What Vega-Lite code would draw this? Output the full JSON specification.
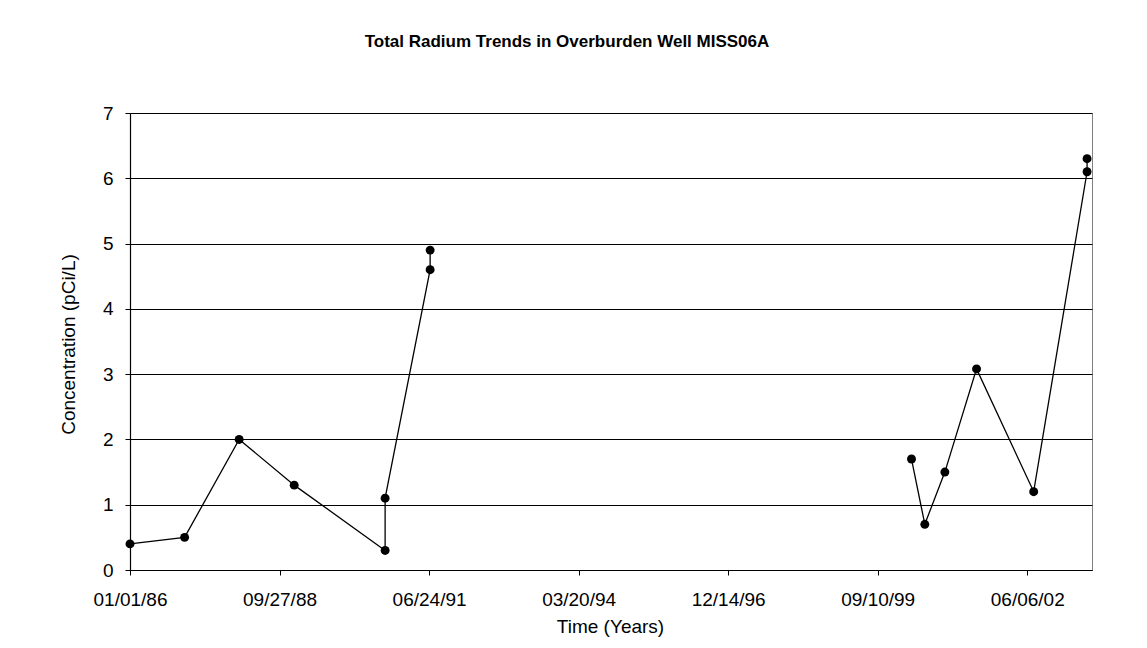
{
  "$schema": "https://vega.github.io/schema/vega-lite/v6.json",
  "autosize": "none",
  "width": 962,
  "height": 457,
  "padding": {"left": 130, "top": 113, "right": 55, "bottom": 78},
  "background": "white",
  "title": {
    "text": "Total Radium Trends in Overburden Well MISS06A",
    "font": "Liberation Sans",
    "fontSize": 17,
    "fontWeight": "bold",
    "color": "black",
    "anchor": "middle",
    "frame": "group",
    "dx": -44,
    "offset": 40,
    "baseline": "alphabetic"
  },
  "config": {
    "view": {"stroke": "#808080", "strokeWidth": 1},
    "axis": {
      "labelFont": "Liberation Sans",
      "titleFont": "Liberation Sans",
      "labelFontSize": 19,
      "titleFontSize": 19,
      "titleFontWeight": "normal",
      "labelColor": "black",
      "titleColor": "black",
      "domainColor": "black",
      "tickColor": "black",
      "gridColor": "black",
      "gridOpacity": 1,
      "gridWidth": 1,
      "tickSize": 5,
      "domainWidth": 1.2
    }
  },
  "data": {
    "values": [
      {"date": "1986-01-01", "conc": 0.4, "segment": "A", "seq": 1},
      {"date": "1987-01-01", "conc": 0.5, "segment": "A", "seq": 2},
      {"date": "1988-01-01", "conc": 2.0, "segment": "A", "seq": 3},
      {"date": "1989-01-03", "conc": 1.3, "segment": "A", "seq": 4},
      {"date": "1990-09-03", "conc": 0.3, "segment": "A", "seq": 5},
      {"date": "1990-09-03", "conc": 1.1, "segment": "A", "seq": 6},
      {"date": "1991-07-01", "conc": 4.6, "segment": "A", "seq": 7},
      {"date": "1991-07-01", "conc": 4.9, "segment": "A", "seq": 8},
      {"date": "2000-04-23", "conc": 1.7, "segment": "B", "seq": 9},
      {"date": "2000-07-21", "conc": 0.7, "segment": "B", "seq": 10},
      {"date": "2000-12-02", "conc": 1.5, "segment": "B", "seq": 11},
      {"date": "2001-07-02", "conc": 3.08, "segment": "B", "seq": 12},
      {"date": "2002-07-19", "conc": 1.2, "segment": "B", "seq": 13},
      {"date": "2003-07-11", "conc": 6.1, "segment": "B", "seq": 14},
      {"date": "2003-07-11", "conc": 6.3, "segment": "B", "seq": 15}
    ]
  },
  "encoding": {
    "x": {
      "field": "date",
      "type": "temporal",
      "title": "Time (Years)",
      "scale": {
        "type": "utc",
        "domain": [
          {"year": 1986, "month": 1, "date": 1, "utc": true},
          {"year": 2003, "month": 8, "date": 13, "utc": true}
        ],
        "nice": false
      },
      "axis": {
        "values": [
          {"year": 1986, "month": 1, "date": 1, "utc": true},
          {"year": 1988, "month": 9, "date": 27, "utc": true},
          {"year": 1991, "month": 6, "date": 24, "utc": true},
          {"year": 1994, "month": 3, "date": 20, "utc": true},
          {"year": 1996, "month": 12, "date": 14, "utc": true},
          {"year": 1999, "month": 9, "date": 10, "utc": true},
          {"year": 2002, "month": 6, "date": 6, "utc": true}
        ],
        "labelExpr": "utcFormat(datum.value, '%m/%d/%y')",
        "grid": false,
        "labelBaseline": "alphabetic",
        "labelPadding": 30.5,
        "labelOverlap": false,
        "labelFlush": false,
        "titleX": 480,
        "titleY": 62.7,
        "titleAlign": "center",
        "titleBaseline": "alphabetic"
      }
    },
    "y": {
      "field": "conc",
      "type": "quantitative",
      "title": "Concentration (pCi/L)",
      "scale": {"domain": [0, 7], "nice": false},
      "axis": {
        "values": [0, 1, 2, 3, 4, 5, 6, 7],
        "grid": true,
        "labelPadding": 12,
        "titleAngle": -90,
        "titleX": -55.5,
        "titleY": 231,
        "titleAlign": "center",
        "titleBaseline": "alphabetic"
      }
    }
  },
  "layer": [
    {
      "mark": {"type": "line", "color": "black", "strokeWidth": 1.3},
      "encoding": {
        "detail": {"field": "segment", "type": "nominal"},
        "order": {"field": "seq", "type": "quantitative"}
      }
    },
    {
      "mark": {"type": "point", "filled": true, "color": "black", "opacity": 1, "size": 80, "shape": "circle"}
    }
  ]
}
